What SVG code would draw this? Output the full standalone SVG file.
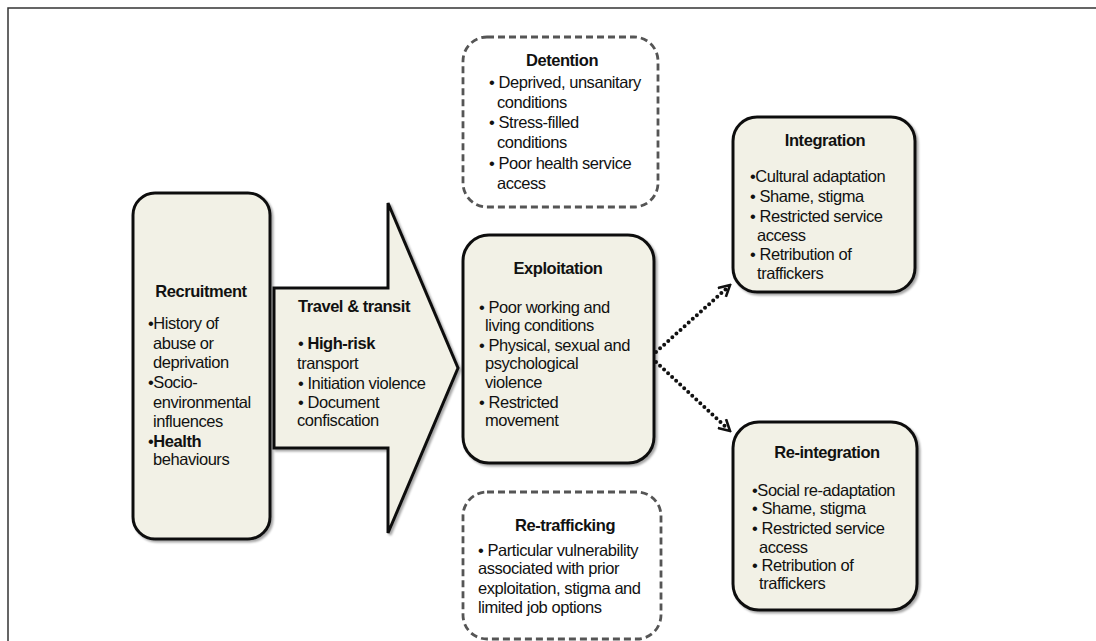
<svg xmlns="http://www.w3.org/2000/svg" width="1096" height="641" viewBox="0 0 1096 641">
  <style>
    .box { fill: #f2f1e6; stroke: #111; stroke-width: 3; filter: url(#shadow); }
    .dash { fill: #fff; stroke: #555; stroke-width: 2.8; stroke-dasharray: 7 4; }
    text { font-family: "Liberation Sans", Arial, sans-serif; font-size: 16.5px; fill: #111; letter-spacing: -0.45px; }
    .title { font-weight: bold; text-anchor: middle; }
    .b { font-weight: bold; }
    .conn { fill: none; stroke: #111; stroke-width: 4; stroke-linecap: round; stroke-dasharray: 0 5.5; }
  </style>
  <defs>
    <filter id="shadow" x="-10%" y="-10%" width="130%" height="130%">
      <feDropShadow dx="2" dy="2" stdDeviation="1.2" flood-color="#000" flood-opacity="0.35"/>
    </filter>
    <marker id="open" viewBox="0 0 14 14" refX="12" refY="7" markerWidth="14" markerHeight="14" markerUnits="userSpaceOnUse" orient="auto">
      <path d="M1,1 L12,7 L1,13" fill="none" stroke="#111" stroke-width="2.6"/>
    </marker>
  </defs>

  <rect width="1096" height="641" fill="#fff"/>
  <!-- frame -->
  <path d="M8,641 V8 H1096" fill="none" stroke="#333" stroke-width="1.5"/>

  <!-- travel & transit arrow -->
  <g id="travel">
    <path class="box" d="M274,288 H388 V203 L458,368 L388,533 V448 H274 Z"/>
    <text class="b" x="298" y="312">Travel &amp; transit</text>
    <text x="298" y="349">• <tspan class="b">High-risk</tspan></text>
    <text x="297" y="369">transport</text>
    <text x="298" y="389">• Initiation violence</text>
    <text x="298" y="408">• Document</text>
    <text x="297" y="426">confiscation</text>
  </g>

  <!-- recruitment -->
  <g id="recruitment">
    <rect class="box" x="133" y="193" width="137" height="346" rx="22"/>
    <text class="title" x="201" y="297">Recruitment</text>
    <text x="148" y="329">•History of</text>
    <text x="153" y="349">abuse or</text>
    <text x="153" y="368">deprivation</text>
    <text x="148" y="388">•Socio-</text>
    <text x="153" y="408">environmental</text>
    <text x="153" y="427">influences</text>
    <text x="148" y="447">•<tspan class="b">Health</tspan></text>
    <text x="153" y="465">behaviours</text>
  </g>

  <!-- detention -->
  <g id="detention">
    <rect class="dash" x="463" y="37" width="195" height="170" rx="24"/>
    <text class="title" x="562" y="66">Detention</text>
    <text x="489" y="88">• Deprived, unsanitary</text>
    <text x="497" y="108">conditions</text>
    <text x="489" y="128">• Stress-filled</text>
    <text x="497" y="148">conditions</text>
    <text x="489" y="169">• Poor health service</text>
    <text x="497" y="189">access</text>
  </g>

  <!-- exploitation -->
  <g id="exploitation">
    <rect class="box" x="463" y="235" width="191" height="228" rx="26"/>
    <text class="title" x="558" y="274">Exploitation</text>
    <text x="479" y="313">• Poor working and</text>
    <text x="485" y="331">living conditions</text>
    <text x="479" y="351">• Physical, sexual and</text>
    <text x="485" y="369">psychological</text>
    <text x="485" y="388">violence</text>
    <text x="479" y="408">• Restricted</text>
    <text x="485" y="426">movement</text>
  </g>

  <!-- re-trafficking -->
  <g id="retrafficking">
    <rect class="dash" x="463" y="492" width="198" height="147" rx="24"/>
    <text class="title" x="565" y="531">Re-trafficking</text>
    <text x="478" y="556">• Particular vulnerability</text>
    <text x="478" y="574">associated with prior</text>
    <text x="478" y="594">exploitation, stigma and</text>
    <text x="478" y="613">limited job options</text>
  </g>

  <!-- integration -->
  <g id="integration">
    <rect class="box" x="733" y="117" width="182" height="175" rx="24"/>
    <text class="title" x="825" y="146">Integration</text>
    <text x="750" y="182">•Cultural adaptation</text>
    <text x="750" y="202">• Shame, stigma</text>
    <text x="750" y="222">• Restricted service</text>
    <text x="757" y="241">access</text>
    <text x="750" y="260">• Retribution of</text>
    <text x="757" y="279">traffickers</text>
  </g>

  <!-- re-integration -->
  <g id="reintegration">
    <rect class="box" x="733" y="422" width="184" height="188" rx="26"/>
    <text class="title" x="827" y="458">Re-integration</text>
    <text x="752" y="496">•Social re-adaptation</text>
    <text x="752" y="514">• Shame, stigma</text>
    <text x="752" y="534">• Restricted service</text>
    <text x="759" y="553">access</text>
    <text x="752" y="571">• Retribution of</text>
    <text x="759" y="589">traffickers</text>
  </g>

  <!-- connectors -->
  <g id="connectors">
    <path class="conn" d="M656,352 L727,288"/>
    <path d="M656,352 L730,285" fill="none" stroke="none" marker-end="url(#open)"/>
    <path class="conn" d="M656,362 L727,428"/>
    <path d="M656,362 L730,431" fill="none" stroke="none" marker-end="url(#open)"/>
  </g>
</svg>
